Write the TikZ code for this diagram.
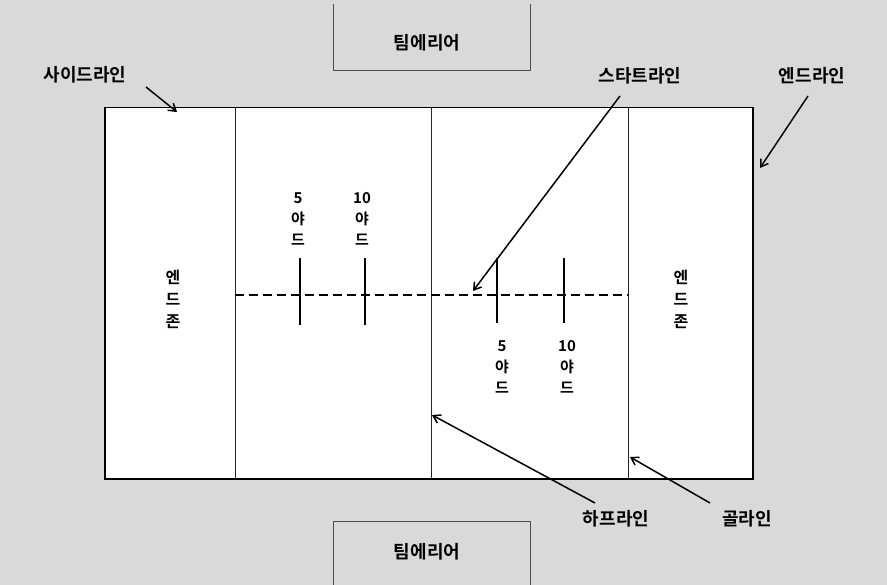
\documentclass[tikz,border=0pt]{standalone}
\usepackage{fontspec}
\newfontfamily\kr{Noto Sans CJK KR}[BoldFont={Noto Sans CJK KR Bold}]
\usetikzlibrary{arrows.meta}
\definecolor{bg}{RGB}{217,217,217}
\begin{document}
\begin{tikzpicture}[x=1pt,y=-1pt,
  lbl/.style={font=\kr\bfseries\fontsize{18}{20}\selectfont, inner sep=1pt},
  yard/.style={font=\kr\bfseries\fontsize{15}{21}\selectfont, align=center, inner sep=0pt},
  ez/.style={font=\kr\bfseries\fontsize{16}{22}\selectfont, align=center, inner sep=0pt},
  ptr/.style={-{Straight Barb[length=7pt,width=9pt]}, line width=1.5pt},
  fieldline/.style={line width=0.8pt, draw=black!85},
  yardtick/.style={line width=1.4pt},
  team/.style={draw=black!70, line width=1pt}
]
\fill[bg] (0,0) rectangle (887,585);
\useasboundingbox (0,0) rectangle (887,585);
% team areas
\draw[team] (333,4) -- (333,71) -- (530,71) -- (530,4);
\draw[team] (333,585) -- (333,521) -- (530,521) -- (530,585);
\node[lbl] (teamtop) at (427,43) {팀에리어};
\node[lbl] (teambot) at (427,552) {팀에리어};
% field
\node[draw, fill=white, line width=1.5pt, minimum width=648pt, minimum height=371pt, anchor=north west, inner sep=0pt] (field) at (104,107) {};
\draw[fieldline] (235,107) -- (235,478);
\draw[fieldline] (431,107) -- (431,478);
\draw[fieldline] (628,107) -- (628,478);
\draw[dash pattern=on 9pt off 5pt, line width=1.3pt] (235,295) -- (628,295);
\draw[yardtick] (300,258) -- (300,325);
\draw[yardtick] (365,258) -- (365,325);
\draw[yardtick] (497,258) -- (497,323);
\draw[yardtick] (564,258) -- (564,323);
% yard labels
\node[yard] (y5l) at (298,219) {5\\야\\드};
\node[yard] (y10l) at (362,219) {10\\야\\드};
\node[yard] (y5r) at (502,367) {5\\야\\드};
\node[yard] (y10r) at (567,367) {10\\야\\드};
% end zones
\node[ez] (ezl) at (173,299) {엔\\드\\존};
\node[ez] (ezr) at (681,299) {엔\\드\\존};
% labels
\node[lbl] (side) at (85,75) {사이드라인};
\node[lbl] (start) at (640,76) {스타트라인};
\node[lbl] (endl) at (812,76) {엔드라인};
\node[lbl] (half) at (616,519) {하프라인};
\node[lbl] (goal) at (747,519) {골라인};
% pointer coordinates
\coordinate (sideA) at (146,87);  \coordinate (sideB) at (177,112);
\coordinate (startA) at (620,96); \coordinate (startB) at (473,291);
\coordinate (endA) at (808,96);   \coordinate (endB) at (760,168);
\coordinate (halfA) at (595,503); \coordinate (halfB) at (432,415);
\coordinate (goalA) at (710,503); \coordinate (goalB) at (630,457);
\draw[ptr] (sideA) -- (sideB);
\draw[ptr] (startA) -- (startB);
\draw[ptr] (endA) -- (endB);
\draw[ptr] (halfA) -- (halfB);
\draw[ptr] (goalA) -- (goalB);
\end{tikzpicture}
\end{document}
